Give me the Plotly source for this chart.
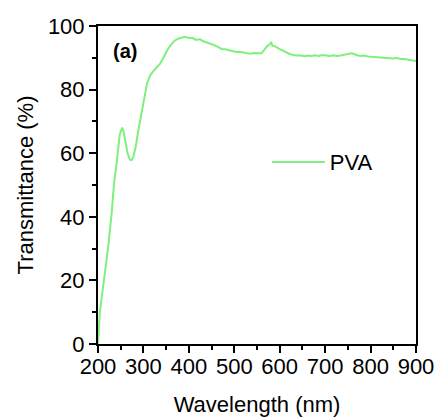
import plotly.graph_objects as go

wavelength = [200, 204, 213, 222, 230, 235, 241, 245, 248, 253, 256, 260, 265, 270, 274, 278, 283, 288, 293,
              298, 303, 308, 314, 320, 328, 336, 344, 352, 360, 368, 376, 384, 392, 400, 408, 416, 424, 432, 440,
              448, 456, 464, 472, 480, 488, 496, 504, 512, 520, 528, 536, 544, 552, 560, 566, 572, 578, 581, 584,
              590, 598, 606, 614, 622, 630, 638, 646, 654, 662, 670, 678, 686, 694, 702, 710, 718, 726, 734, 742,
              750, 758, 764, 770, 778, 786, 794, 802, 810, 818, 826, 834, 842, 850, 858, 866, 874, 882, 890, 898, 900]
transmittance = [0, 10, 20, 30, 41, 50, 57, 62, 66, 68, 67, 64, 60, 58, 57.8, 59, 62, 66.5, 70.5,
                 74.5, 78.5, 82, 84.2, 85.5, 86.8, 88, 90, 92.3, 94.0, 95.3, 96.0, 96.4, 96.6, 96.2, 96.2, 95.6, 95.8, 95.2, 94.8,
                 94.5, 94.0, 93.4, 92.8, 92.7, 92.4, 92.0, 91.8, 91.9, 91.6, 91.4, 91.3, 91.5, 91.4, 91.4, 92.5, 93.6, 94.2, 95.0, 93.8,
                 93.6, 92.9, 92.3, 91.7, 91.2, 90.9, 90.7, 90.8, 90.5, 90.7, 90.6, 90.8, 90.6, 90.9, 90.7, 90.6, 90.8, 90.6, 90.7, 90.9,
                 91.2, 91.4, 91.2, 90.8, 90.6, 90.7, 90.4, 90.3, 90.2, 90.1, 90.0, 90.1, 89.9, 89.8, 89.9, 89.6, 89.6, 89.4, 89.3, 89.1, 89.0]

x_ticks = [200, 300, 400, 500, 600, 700, 800, 900]
y_ticks = [0, 20, 40, 60, 80, 100]

FONT = "Liberation Sans, Arial, sans-serif"

fig = go.Figure()
fig.add_trace(go.Scatter(x=wavelength, y=transmittance, mode="lines", name="PVA",
                         line=dict(color="#7ef07e", width=2)))

axis_common = dict(showline=True, linecolor="black", linewidth=2, mirror=True,
                   ticks="outside", tickcolor="black", tickwidth=2, ticklen=7,
                   showgrid=False, zeroline=False, automargin=False,
                   tickfont=dict(family=FONT, size=22, color="black"))

fig.update_xaxes(range=[200, 900], tickvals=x_ticks, ticklabelstandoff=-5,
                 minor=dict(dtick=50, ticks="outside", ticklen=4, tickwidth=2, tickcolor="black", showgrid=False),
                 title=dict(text="Wavelength (nm)", font=dict(family=FONT, size=22, color="black"), standoff=18),
                 **axis_common)
fig.update_yaxes(range=[0, 100], tickvals=y_ticks,
                 minor=dict(dtick=10, ticks="outside", ticklen=4, tickwidth=2, tickcolor="black", showgrid=False),
                 title=dict(text="Transmittance (%)", font=dict(family=FONT, size=22, color="black"), standoff=8),
                 **axis_common)

fig.add_annotation(text="<b>(a)</b>", xref="paper", yref="paper", x=0.04, y=0.92,
                   xanchor="left", yanchor="middle", showarrow=False,
                   font=dict(family=FONT, size=20, color="black"))

fig.update_layout(
    width=438, height=418,
    margin=dict(l=98, r=22, t=26, b=74),
    paper_bgcolor="white", plot_bgcolor="white",
    showlegend=True,
    legend=dict(x=0.531, y=0.572, xanchor="left", yanchor="middle",
                bgcolor="rgba(0,0,0,0)", font=dict(family=FONT, size=22, color="black"),
                itemwidth=53),
)

fig.write_html("out.html")
